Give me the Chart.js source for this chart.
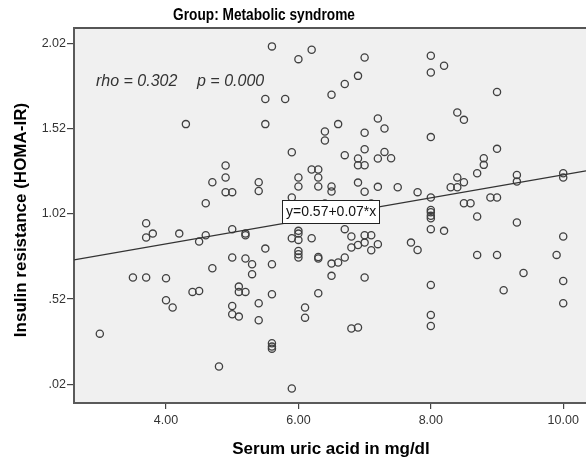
<!DOCTYPE html>
<html><head><meta charset="utf-8">
<script src="https://cdn.jsdelivr.net/npm/chart.js@4/dist/chart.umd.min.js"></script>
<style>html,body{margin:0;padding:0;background:#fff;overflow:hidden}canvas{display:block}</style>
</head><body>
<canvas id="c" width="586" height="460"></canvas>
<script>
// ---- data ----
const uricAcid = [3.0,3.5,3.7,3.7,3.7,3.8,4.0,4.0,4.1,4.2,4.3,4.4,4.5,4.5,4.6,4.6,4.7,4.7,4.8,4.9,4.9,4.9,5.0,5.0,5.0,5.0,5.0,5.1,5.1,5.1,5.2,5.2,5.2,5.2,5.3,5.3,5.4,5.4,5.4,5.4,5.5,5.5,5.5,5.6,5.6,5.6,5.6,5.6,5.6,5.8,5.9,5.9,5.9,5.9,6.0,6.0,6.0,6.0,6.0,6.0,6.0,6.0,6.0,6.1,6.1,6.2,6.2,6.2,6.3,6.3,6.3,6.3,6.3,6.3,6.4,6.4,6.5,6.5,6.5,6.5,6.5,6.6,6.6,6.7,6.7,6.7,6.7,6.8,6.8,6.8,6.9,6.9,6.9,6.9,6.9,6.9,7.0,7.0,7.0,7.0,7.0,7.0,7.0,7.0,7.1,7.1,7.2,7.2,7.2,7.2,7.3,7.3,7.4,7.5,7.7,7.8,7.8,8.0,8.0,8.0,8.0,8.0,8.0,8.0,8.0,8.0,8.0,8.0,8.0,8.2,8.2,8.3,8.4,8.4,8.4,8.5,8.5,8.5,8.6,8.7,8.7,8.7,8.8,8.8,8.9,9.0,9.0,9.0,9.0,9.1,9.3,9.3,9.3,9.4,9.9,10.0,10.0,10.0,10.0,10.0,6.4,7.1];
const homaIR = [0.317,0.646,0.646,0.965,0.881,0.904,0.642,0.513,0.470,0.904,1.546,0.562,0.567,0.857,0.894,1.082,0.701,1.205,0.124,1.303,1.233,1.147,1.147,0.930,0.764,0.479,0.431,0.417,0.593,0.562,0.562,0.904,0.894,0.758,0.724,0.666,1.205,1.154,0.495,0.396,1.693,1.546,0.816,2.002,0.724,0.548,0.261,0.241,0.229,1.693,1.381,1.116,0.877,-0.005,1.927,1.233,1.180,0.920,0.904,0.867,0.802,0.783,0.764,0.470,0.411,1.982,1.280,0.877,1.280,1.233,1.180,0.767,0.758,0.554,1.503,1.450,1.718,1.180,1.151,0.728,0.656,1.546,0.734,1.781,1.364,0.930,0.764,0.887,0.822,0.347,1.829,1.344,1.305,1.203,0.837,0.353,1.937,1.495,1.399,1.305,1.149,0.894,0.851,0.646,0.894,0.806,1.579,1.344,1.178,0.842,1.520,1.383,1.346,1.176,0.851,1.147,0.808,1.947,1.849,1.470,1.116,1.043,1.029,1.008,0.994,0.930,0.603,0.427,0.362,1.888,0.920,1.176,1.614,1.233,1.176,1.571,1.205,1.082,1.082,1.258,1.004,0.779,1.346,1.307,1.116,1.735,1.401,1.116,0.779,0.572,1.248,1.209,0.969,0.673,0.779,1.258,1.233,0.887,0.626,0.495,1.08,1.08];
const xTickValues = [4, 6, 8, 10];
const yTickValues = [0.02, 0.52, 1.02, 1.52, 2.02];
const xRange = [2.61, 10.344];
const yRange = [-0.0897, 2.1098];
const fitIntercept = 0.574;
const fitSlope = 0.0675;
const fitLabel = 'y=0.57+0.07*x';
const rhoText = 'rho = 0.302';
const pText = 'p = 0.000';
const chartTitle = 'Group: Metabolic syndrome';
const xTitle = 'Serum uric acid in mg/dl';
const yTitle = 'Insulin resistance (HOMA-IR)';

const points = uricAcid.map((x, i) => ({x, y: homaIR[i]}));
const fitLine = xRange.map(x => ({x, y: fitIntercept + fitSlope * x}));

const FONT = "'Liberation Sans', Arial, Helvetica, sans-serif";

const decor = {
  id: 'decor',
  beforeDraw(chart) {
    const {ctx, chartArea: a} = chart;
    ctx.save();
    ctx.fillStyle = '#ffffff';
    ctx.fillRect(0, 0, chart.width, chart.height);
    ctx.fillStyle = '#f0f0f0';
    ctx.fillRect(a.left, a.top, a.right - a.left, a.bottom - a.top);
    ctx.strokeStyle = '#555';
    ctx.lineWidth = 2;
    ctx.beginPath();
    ctx.moveTo(a.left, a.top);
    ctx.lineTo(a.right, a.top);
    ctx.stroke();
    ctx.restore();
  },
  afterDatasetsDraw(chart) {
    const {ctx} = chart;
    ctx.save();
    ctx.fillStyle = '#333';
    ctx.font = "italic 16px " + FONT;
    ctx.textBaseline = 'middle';
    ctx.textAlign = 'left';
    ctx.fillText(rhoText, 96, 82);
    ctx.fillText(pText, 197, 82);
    ctx.fillStyle = '#ffffff';
    ctx.fillRect(282.5, 200.5, 97, 23);
    ctx.strokeStyle = '#222';
    ctx.lineWidth = 1;
    ctx.strokeRect(282.5, 200.5, 97, 23);
    ctx.fillStyle = '#111';
    ctx.font = "14px " + FONT;
    ctx.fillText(fitLabel, 286, 212.5);
    ctx.restore();
  },
  afterDraw(chart) {
    const {ctx} = chart;
    ctx.save();
    ctx.fillStyle = '#000';
    ctx.textAlign = 'center';
    ctx.textBaseline = 'middle';
    ctx.save();
    ctx.translate(264, 15);
    ctx.scale(0.83, 1);
    ctx.font = "bold 16.5px " + FONT;
    ctx.fillText(chartTitle, 0, 0);
    ctx.restore();
    ctx.font = "bold 17px " + FONT;
    ctx.fillText(xTitle, 331, 449);
    ctx.translate(21, 220);
    ctx.rotate(-Math.PI / 2);
    ctx.fillText(yTitle, 0, 0);
    ctx.restore();
  }
};

new Chart(document.getElementById('c'), {
  type: 'scatter',
  data: {
    datasets: [
      {
        type: 'line',
        data: fitLine,
        borderColor: '#333',
        borderWidth: 1.3,
        pointRadius: 0,
        fill: false
      },
      {
        data: points,
        pointStyle: 'circle',
        pointRadius: 3.6,
        borderWidth: 1.3,
        borderColor: '#404040',
        backgroundColor: 'rgba(0,0,0,0)'
      }
    ]
  },
  options: {
    responsive: false,
    animation: false,
    devicePixelRatio: 1,
    layout: {autoPadding: false, padding: {top: 28, left: 0, right: 0, bottom: 0}},
    plugins: {legend: {display: false}, tooltip: {enabled: false}, title: {display: false}},
    scales: {
      x: {
        type: 'linear',
        min: xRange[0], max: xRange[1],
        afterBuildTicks(s) { s.ticks = xTickValues.map(v => ({value: v})); },
        afterFit(s) { s.height = 57; s.paddingLeft = 0; s.paddingRight = 0; },
        grid: {display: true, drawOnChartArea: false, drawTicks: true, tickLength: 6, color: '#444', lineWidth: 1.2},
        border: {display: true, color: '#5a5a5a', width: 2},
        ticks: {color: '#333', font: {family: FONT, size: 12.5}, padding: 4, autoSkip: false, maxRotation: 0,
          callback: v => Number(v).toFixed(2)}
      },
      y: {
        type: 'linear',
        min: yRange[0], max: yRange[1],
        afterBuildTicks(s) { s.ticks = yTickValues.map(v => ({value: v})); },
        afterFit(s) { s.width = 74; s.paddingTop = 0; s.paddingBottom = 0; },
        grid: {display: true, drawOnChartArea: false, drawTicks: true, tickLength: 7, color: '#444', lineWidth: 1.2},
        border: {display: true, color: '#5a5a5a', width: 2},
        ticks: {color: '#333', font: {family: FONT, size: 12.5}, padding: 1, autoSkip: false,
          callback: v => Number(v).toFixed(2).replace(/^0\./, '.')}
      }
    }
  },
  plugins: [decor]
});
</script>
</body></html>
